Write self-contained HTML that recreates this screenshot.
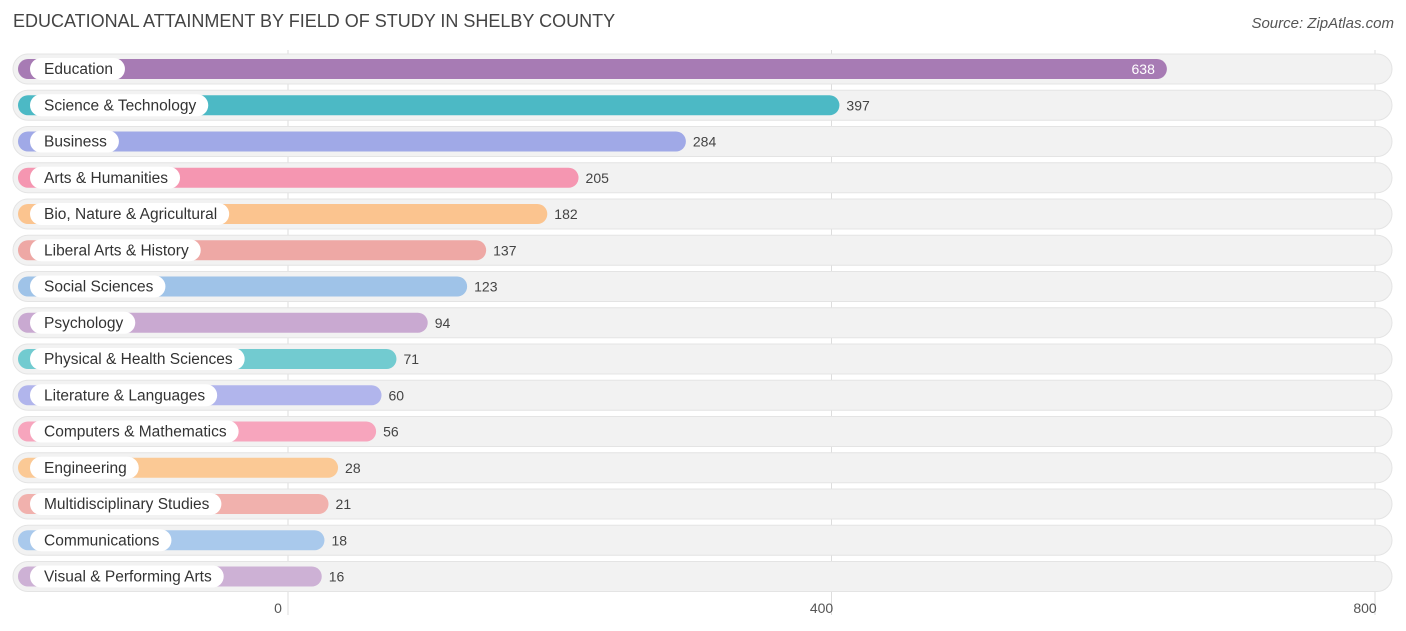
<!DOCTYPE html>
<html><head><meta charset="utf-8"><style>
body{margin:0;background:#fff;font-family:"Liberation Sans",sans-serif;}
#wrap{position:relative;width:1406px;height:631px;overflow:hidden;}
.title{position:absolute;left:13px;top:11px;font-size:18px;color:#444;}
.src{position:absolute;right:12px;top:15px;font-size:15px;color:#555;font-style:italic;}
</style></head><body>
<div id="wrap">
<div class="title">EDUCATIONAL ATTAINMENT BY FIELD OF STUDY IN SHELBY COUNTY</div>
<div class="src">Source: ZipAtlas.com</div>
<svg id="svg" width="1406" height="631" style="position:absolute;left:0;top:0"></svg>
</div>
<script>
const categories=["Education","Science & Technology","Business","Arts & Humanities","Bio, Nature & Agricultural","Liberal Arts & History","Social Sciences","Psychology","Physical & Health Sciences","Literature & Languages","Computers & Mathematics","Engineering","Multidisciplinary Studies","Communications","Visual & Performing Arts"];
const values=[638,397,284,205,182,137,123,94,71,60,56,28,21,18,16];
const colors=["#a77bb4","#4cb9c5","#a0a9e7","#f596b1","#fbc48f","#eea8a5","#9fc3e8","#c9a9d1","#72cbd0","#b1b5ec","#f7a5bd","#fbc995","#f1b1ad","#a9c9ec","#cdb1d5"];
const ticks=[0,400,800];
const svg=document.getElementById('svg');const NS="http://www.w3.org/2000/svg";
const x=v=>288+v*(1375-288)/800;
const y=i=>69+i*36.25;
function mk(t,a,p){const e=document.createElementNS(NS,t);for(const k in a)e.setAttribute(k,a[k]);(p||svg).appendChild(e);return e;}
ticks.forEach(t=>{
 const l=mk('line',{x1:x(t),x2:x(t),y1:50,y2:615,stroke:'#ddd','stroke-width':1});
 
 
 const tx=mk('text',{x:x(t)-10,y:613,'text-anchor':'middle','font-size':14,fill:'#555','font-family':'Liberation Sans,sans-serif'});
 tx.textContent=t;
 
 
});
categories.forEach((c,i)=>{
 const cy=y(i);
 const g=mk('g',{});
 
 
 mk('rect',{x:13,y:cy-15,width:1379,height:30,rx:15,fill:'#f2f2f2',stroke:'#e4e4e4'},g);
 const end=x(values[i])+12;
 const b=mk('rect',{x:18,y:cy-10,width:end-18,height:20,rx:10,fill:colors[i]},g);
 
 
 const lt=mk('text',{x:44,y:cy+5,'font-size':15.5,fill:'#333','font-family':'Liberation Sans,sans-serif'},g);
 lt.textContent=c;
 const w=lt.getComputedTextLength();
 const pill=mk('rect',{x:30,y:cy-11,width:w+26,height:22,rx:11,fill:'#fff'},g);
 g.insertBefore(pill,lt);
 
 
 const inside=values[i]>500;
 const vt=mk('text',{x:inside?end-12:end+7,y:cy+5,'font-size':14,fill:inside?'#fff':'#444','text-anchor':inside?'end':'start','font-family':'Liberation Sans,sans-serif'},g);
 vt.textContent=values[i];
 
 
});
</script>
</body></html>
